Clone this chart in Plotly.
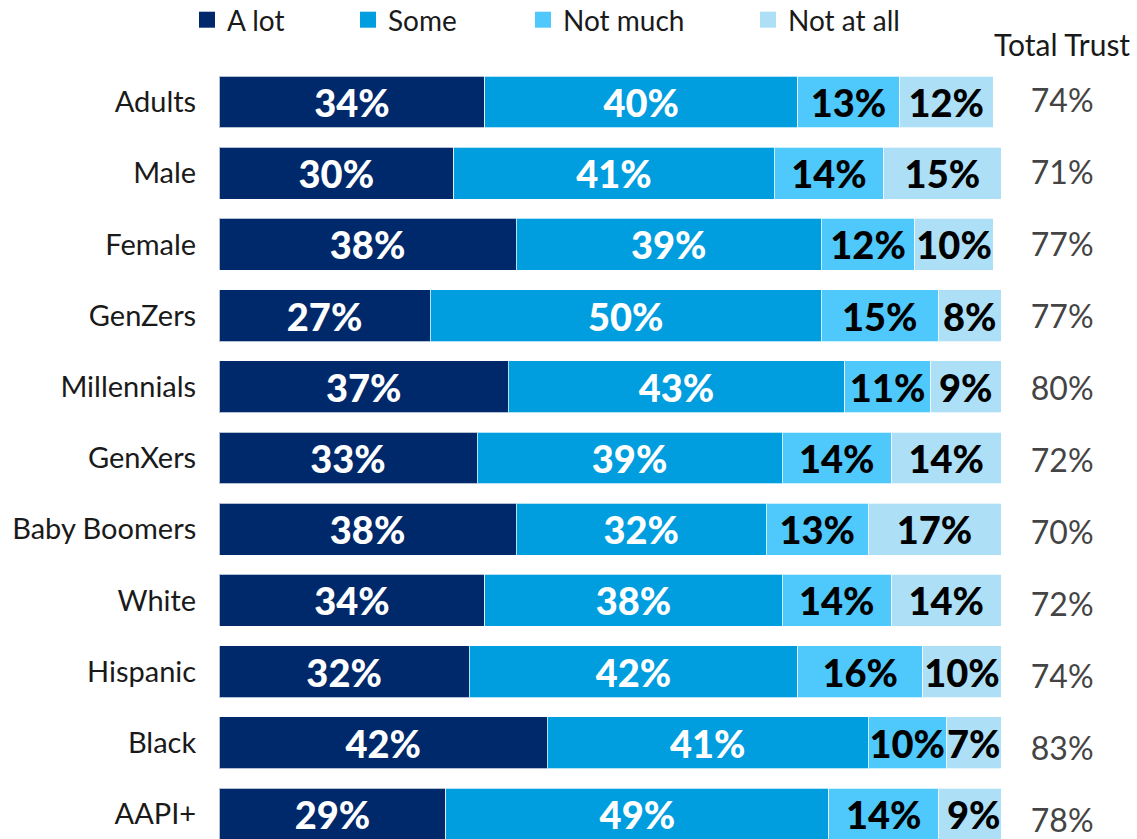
import plotly.graph_objects as go

# Survey groups, top to bottom
groups = ["Adults", "Male", "Female", "GenZers", "Millennials", "GenXers",
          "Baby Boomers", "White", "Hispanic", "Black", "AAPI+"]

# Share of each group by level of trust (%)
a_lot = [34, 30, 38, 27, 37, 33, 38, 34, 32, 42, 29]
some = [40, 41, 39, 50, 43, 39, 32, 38, 42, 41, 49]
not_much = [13, 14, 12, 15, 11, 14, 13, 14, 16, 10, 14]
not_at_all = [12, 15, 10, 8, 9, 14, 17, 14, 10, 7, 9]

levels = ["A lot", "Some", "Not much", "Not at all"]
series = [a_lot, some, not_much, not_at_all]
colors = ["#00296b", "#009ddf", "#4fc9fb", "#ade0f7"]
text_colors = ["white", "white", "black", "black"]

# Total trust = "A lot" + "Some"
total_trust = [a + s for a, s in zip(a_lot, some)]

W, H = 1137, 839
FONT = "Lato"

fig = go.Figure()

legend_names = ["legend", "legend2", "legend3", "legend4"]
for name, vals, col, tcol, lg in zip(levels, series, colors, text_colors, legend_names):
    fig.add_trace(go.Bar(
        y=groups, x=vals, orientation="h", name=name,
        marker=dict(color=col, line=dict(color="rgba(255,255,255,0.7)", width=1)),
        text=[f"{v}%" for v in vals],
        textposition="inside", insidetextanchor="middle", textangle=0,
        constraintext="none",
        textfont=dict(family=FONT, size=38, color=tcol, weight=900),
        showlegend=False, hoverinfo="skip",
    ))
    # legend swatch
    fig.add_trace(go.Scatter(
        x=[None], y=[None], mode="markers", name=name,
        marker=dict(symbol="square", size=18, color=col),
        legend=lg, showlegend=True,
    ))

# Total trust column
fig.add_trace(go.Scatter(
    x=[0.45] * len(groups), y=groups, mode="text",
    text=[f"{t}%" for t in total_trust],
    textfont=dict(family=FONT, size=32, color="#444444"),
    xaxis="x2", yaxis="y2", showlegend=False, hoverinfo="skip",
))

x0, x1 = 219 / W, 1001 / W
row = 71.2
first = 102
y_range = [(H - first) / row, -first / row]
row2 = 72.0
first2 = 104
y2_range = [(H - first2) / row2, -first2 / row2]

legend_x = [199, 360, 535, 760]
legend_common = dict(orientation="h", yanchor="middle", y=1 - 20 / H,
                     xanchor="left", font=dict(family=FONT, size=28, color="#1a1a1a"),
                     bgcolor="rgba(0,0,0,0)", itemsizing="trace", tracegroupgap=0)
legends = {}
for lg, px in zip(legend_names, legend_x):
    legends[lg] = dict(legend_common, x=(px - 12) / W)

fig.update_layout(
    width=W, height=H,
    margin=dict(l=0, r=0, t=0, b=0, autoexpand=False),
    paper_bgcolor="white", plot_bgcolor="white",
    barmode="stack", bargap=0.27,
    font=dict(family=FONT, color="#1a1a1a"),
    xaxis=dict(domain=[x0, x1], range=[0, 100], visible=False, fixedrange=True),
    yaxis=dict(type="category", categoryorder="array", categoryarray=groups,
               range=y_range, showgrid=False, zeroline=False, showline=False,
               ticks="outside", ticklen=16, tickcolor="rgba(0,0,0,0)",
               tickfont=dict(family=FONT, size=29, color="#1a1a1a")),
    xaxis2=dict(domain=[x1, 1.0], range=[0, 1], visible=False, anchor="y2"),
    yaxis2=dict(type="category", categoryorder="array", categoryarray=groups,
                range=y2_range, visible=False, overlaying="y", anchor="x2"),
    annotations=[dict(text="Total Trust", xref="paper", yref="paper",
                      x=1062 / W, y=1 - 44 / H, xanchor="center", yanchor="middle",
                      showarrow=False, font=dict(family=FONT, size=30, color="#1a1a1a"))],
    **legends,
)

fig.write_html("out.html")
